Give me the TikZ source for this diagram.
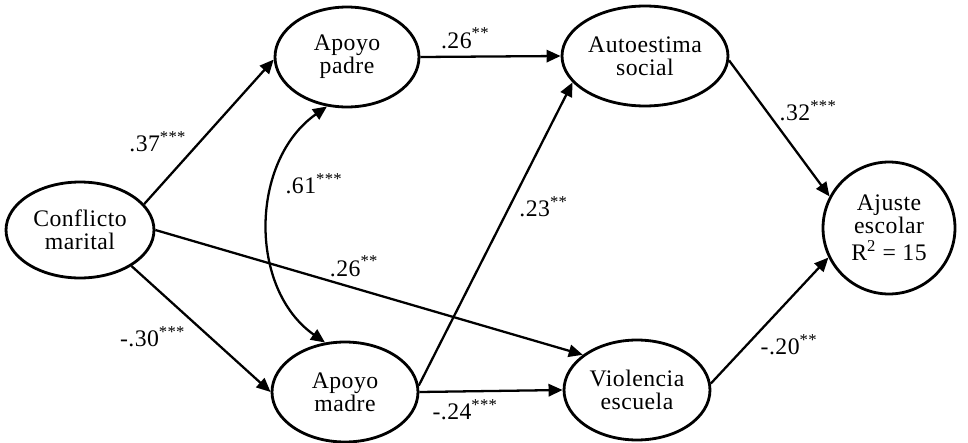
\documentclass[tikz,border=0pt]{standalone}
\usepackage{fontspec}
\setmainfont{Liberation Serif}[LetterSpace=2]
\usetikzlibrary{arrows.meta, shapes.geometric, positioning}
\newcommand{\stars}[1]{\textsuperscript{#1}}

\begin{document}
\begin{tikzpicture}[x=0.02cm, y=-0.02cm,
      font=\fontsize{13.5}{13}\selectfont,
      var/.style={draw, ellipse, line width=1.6pt, inner sep=0pt, align=center,
                  minimum width=2.92cm, minimum height=2cm},
      arr/.style={-{Triangle[length=8pt, width=7pt]}, line width=1.3pt},
      dbl/.style={{Triangle[length=8pt, width=7pt]}-{Triangle[length=8pt, width=7pt]}, line width=1.3pt},
      lab/.style={inner sep=1pt}]
    \useasboundingbox (0,0) rectangle (968,443);
    \node[var, minimum width=2.96cm, minimum height=1.92cm] (conf) at (80,230) {Conflicto\\marital};
    \node[var, minimum width=2.88cm] (padre) at (347,57) {Apoyo\\padre};
    \node[var] (madre) at (345,392) {Apoyo\\madre};
    \node[var, minimum width=3.32cm] (auto) at (645,56) {Autoestima\\social};
    \node[var] (viol) at (637,390) {Violencia\\escuela};
    \node[draw, circle, line width=1.6pt, inner sep=0pt, align=center, minimum size=2.64cm] (ajuste) at (889,228) {Ajuste\\escolar\\[2.5pt]R\stars{2} = 15};
    \draw[arr] (conf.22) -- (padre.182) node[lab, pos=0.43, left=6pt] {.37\stars{***}};
    \draw[arr] (conf.-35) -- (madre.west) node[lab, pos=0.56, left=12pt] {-.30\stars{***}};
    \draw[arr] (conf.east) -- (viol.147) node[lab, pos=0.465, above=5pt] {.26\stars{**}};
    \draw[arr] (padre.east) -- (auto.west) node[lab, pos=0.32, above=3pt] {.26\stars{**}};
    \draw[arr] (madre.5) -- (auto.200) node[lab, pos=0.59, right=4pt] {.23\stars{**}};
    \draw[arr] (madre.east) -- (viol.west) node[lab, pos=0.32, below=3pt] {-.24\stars{***}};
    \draw[arr] (auto.-3) -- (ajuste.152) node[lab, pos=0.37, right=6pt] {.32\stars{***}};
    \draw[arr] (viol.5) -- (ajuste.206) node[lab, pos=0.31, right=6pt] {-.20\stars{**}};
    \draw[dbl] (padre.-112) .. controls +(-77,54) and +(-77,-54) .. (madre.112)
      node[lab, pos=0.35, right=5pt] {.61\stars{***}};
  \end{tikzpicture}
\end{document}
